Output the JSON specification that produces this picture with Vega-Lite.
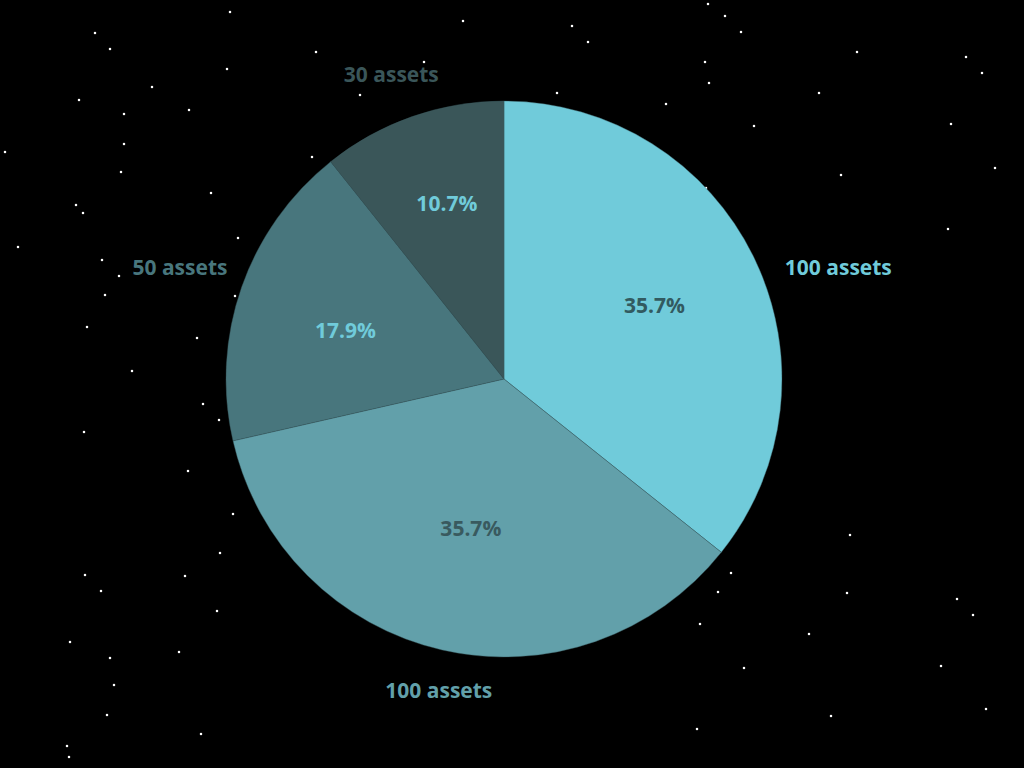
{
  "$schema": "https://vega.github.io/schema/vega-lite/v6.json",
  "width": 1008,
  "height": 758,
  "padding": {"left": 0, "top": 0, "right": 16, "bottom": 10},
  "autosize": {"type": "none"},
  "background": "#000000",
  "config": {"view": {"stroke": null}, "text": {"font": "Open Sans", "fontSize": 21, "fontWeight": "bold"}},
  "datasets": {
    "slices": [
      {"id": "a", "label": "100 assets", "value": 100, "pct": "35.7%"},
      {"id": "b", "label": "100 assets", "value": 100, "pct": "35.7%"},
      {"id": "c", "label": "50 assets", "value": 50, "pct": "17.9%"},
      {"id": "d", "label": "30 assets", "value": 30, "pct": "10.7%"}
    ],
    "stars": [
      {"x": 230, "y": 12}, {"x": 463, "y": 21}, {"x": 95, "y": 33}, {"x": 110, "y": 49}, {"x": 316, "y": 52},
      {"x": 424, "y": 62}, {"x": 227, "y": 69}, {"x": 152, "y": 87}, {"x": 360, "y": 95}, {"x": 79, "y": 100},
      {"x": 124, "y": 114}, {"x": 189, "y": 110}, {"x": 5, "y": 152}, {"x": 124, "y": 144}, {"x": 312, "y": 157},
      {"x": 121, "y": 172}, {"x": 211, "y": 193}, {"x": 76, "y": 205}, {"x": 83, "y": 213}, {"x": 238, "y": 238},
      {"x": 18, "y": 247}, {"x": 102, "y": 260}, {"x": 119, "y": 276}, {"x": 105, "y": 295}, {"x": 235, "y": 296},
      {"x": 87, "y": 327}, {"x": 197, "y": 338}, {"x": 132, "y": 371},
      {"x": 708, "y": 4}, {"x": 725, "y": 16}, {"x": 572, "y": 26}, {"x": 741, "y": 32}, {"x": 588, "y": 42},
      {"x": 857, "y": 52}, {"x": 966, "y": 57}, {"x": 705, "y": 62}, {"x": 982, "y": 73}, {"x": 709, "y": 83},
      {"x": 557, "y": 93}, {"x": 819, "y": 93}, {"x": 666, "y": 104}, {"x": 754, "y": 126}, {"x": 951, "y": 124},
      {"x": 995, "y": 168}, {"x": 841, "y": 175}, {"x": 706, "y": 188}, {"x": 948, "y": 229},
      {"x": 203, "y": 404}, {"x": 219, "y": 420}, {"x": 84, "y": 432}, {"x": 188, "y": 471}, {"x": 233, "y": 514},
      {"x": 220, "y": 553}, {"x": 85, "y": 575}, {"x": 185, "y": 576}, {"x": 101, "y": 591}, {"x": 217, "y": 611},
      {"x": 70, "y": 642}, {"x": 179, "y": 652}, {"x": 110, "y": 658}, {"x": 114, "y": 685}, {"x": 107, "y": 715},
      {"x": 201, "y": 734}, {"x": 67, "y": 746}, {"x": 69, "y": 757},
      {"x": 850, "y": 535}, {"x": 731, "y": 573}, {"x": 718, "y": 592}, {"x": 847, "y": 593}, {"x": 957, "y": 599},
      {"x": 973, "y": 615}, {"x": 700, "y": 624}, {"x": 809, "y": 634}, {"x": 744, "y": 668}, {"x": 941, "y": 666},
      {"x": 986, "y": 709}, {"x": 831, "y": 716}, {"x": 697, "y": 729}
    ]
  },
  "layer": [
    {
      "data": {"name": "stars"},
      "mark": {"type": "square", "size": 5, "color": "#ffffff", "opacity": 1, "filled": true},
      "encoding": {
        "x": {"field": "x", "type": "quantitative", "scale": {"domain": [0, 1008], "nice": false, "zero": false}, "axis": null},
        "y": {"field": "y", "type": "quantitative", "scale": {"domain": [0, 758], "nice": false, "zero": false, "reverse": true}, "axis": null}
      }
    },
    {
      "data": {"name": "slices"},
      "encoding": {
        "theta": {"field": "value", "type": "quantitative", "stack": true},
        "order": {"field": "id", "type": "nominal", "sort": "ascending"}
      },
      "layer": [
        {
          "mark": {"type": "arc", "outerRadius": 278, "stroke": "#3a5a60", "strokeWidth": 0.4},
          "encoding": {
            "color": {"field": "id", "type": "nominal", "scale": {"domain": ["a", "b", "c", "d"], "range": ["#70cbda", "#62a0aa", "#48767d", "#3a5659"]}, "legend": null}
          }
        },
        {
          "mark": {"type": "text", "radius": 320, "dx": 46, "dy": 29, "align": "center", "baseline": "middle"},
          "encoding": {
            "color": {"field": "id", "type": "nominal", "legend": null},
            "text": {"condition": {"test": "datum.id === 'a'", "field": "label"}, "value": ""}
          }
        },
        {
          "mark": {"type": "text", "radius": 320, "dx": 6, "dy": 1, "align": "center", "baseline": "middle"},
          "encoding": {
            "color": {"field": "id", "type": "nominal", "legend": null},
            "text": {"condition": {"test": "datum.id === 'b'", "field": "label"}, "value": ""}
          }
        },
        {
          "mark": {"type": "text", "radius": 320, "dx": -22, "dy": -4, "align": "center", "baseline": "middle"},
          "encoding": {
            "color": {"field": "id", "type": "nominal", "legend": null},
            "text": {"condition": {"test": "datum.id === 'c'", "field": "label"}, "value": ""}
          }
        },
        {
          "mark": {"type": "text", "radius": 320, "dx": -7, "dy": -1, "align": "center", "baseline": "middle"},
          "encoding": {
            "color": {"field": "id", "type": "nominal", "legend": null},
            "text": {"condition": {"test": "datum.id === 'd'", "field": "label"}, "value": ""}
          }
        },
        {
          "mark": {"type": "text", "radius": 167, "dx": 0, "dy": 0, "align": "center", "baseline": "middle", "color": "#325a60"},
          "encoding": {
            "text": {"condition": {"test": "datum.id === 'a'", "field": "pct"}, "value": ""}
          }
        },
        {
          "mark": {"type": "text", "radius": 167, "dx": 4, "dy": -12, "align": "center", "baseline": "middle", "color": "#395a5f"},
          "encoding": {
            "text": {"condition": {"test": "datum.id === 'b'", "field": "pct"}, "value": ""}
          }
        },
        {
          "mark": {"type": "text", "radius": 167, "dx": -1, "dy": 8, "align": "center", "baseline": "middle", "color": "#70cbda"},
          "encoding": {
            "text": {"condition": {"test": "datum.id === 'c'", "field": "pct"}, "value": ""}
          }
        },
        {
          "mark": {"type": "text", "radius": 167, "dx": -2, "dy": -16, "align": "center", "baseline": "middle", "color": "#70cbda"},
          "encoding": {
            "text": {"condition": {"test": "datum.id === 'd'", "field": "pct"}, "value": ""}
          }
        }
      ]
    }
  ]
}
